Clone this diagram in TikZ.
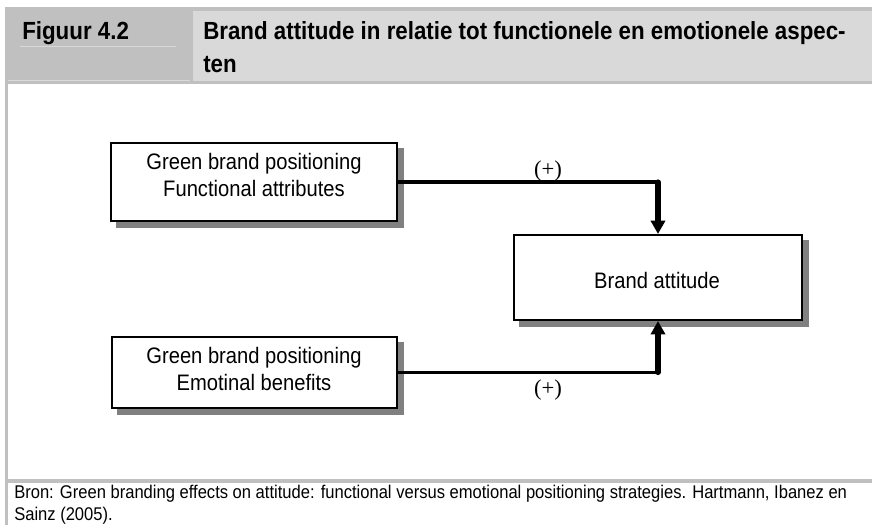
\documentclass[tikz,border=0pt]{standalone}
\usepackage{fontspec}
\setmainfont{Liberation Sans}
\newfontfamily\narrowfont[FakeStretch=0.9]{Liberation Sans}
\newfontfamily\plusfont{Liberation Serif}
\usetikzlibrary{arrows.meta,backgrounds}
\definecolor{hdrdark}{HTML}{C0C0C0}
\definecolor{hdrlight}{HTML}{D9D9D9}
\definecolor{shadowgray}{HTML}{808080}
\begin{document}
\begin{tikzpicture}[x=0.75pt,y=-0.75pt,
  boxnode/.style={draw=black, line width=1.5pt, fill=white, inner sep=0pt, rectangle},
  boxtext/.style={anchor=base, inner sep=0pt, font=\narrowfont\fontsize{16.8}{19}\selectfont},
  hdrtext/.style={anchor=base west, inner sep=0pt, font=\narrowfont\bfseries\fontsize{18.6}{21}\selectfont},
  foottext/.style={anchor=base west, inner sep=0pt, font=\narrowfont\fontsize{13.8}{15}\selectfont},
  plustext/.style={anchor=base, inner sep=0pt, font=\plusfont\fontsize{17}{19}\selectfont},
  hline/.style={line width=2.3pt, line cap=round},
  vline/.style={line width=3.8pt, line cap=round, -{Triangle[width=10.5pt,length=10pt]}},
  shadowbox/.style={fill=shadowgray}]
\useasboundingbox (0,0) rectangle (872,525);
% header
\fill[hdrdark] (5,7) rectangle (872,84);
\fill[hdrlight] (193,11) rectangle (872,81);
\draw[hdrlight, line width=0.6pt] (20,46) -- (176,46);
\draw[hdrlight, line width=0.6pt] (8,80) -- (190,80);
% body frame
\fill[hdrdark] (5,84) rectangle (8,525);
\fill[hdrdark] (5,479) rectangle (872,483);
% header texts
\node[hdrtext] (fig) at (22,39) {Figuur 4.2};
\node[hdrtext] (title1) at (203,39) {Brand attitude in relatie tot functionele en emotionele aspec-};
\node[hdrtext] (title2) at (203,72) {ten};
% boxes
\node[boxnode, minimum width=214.5pt, minimum height=58.5pt] (fa) at (254,182) {};
\node[boxnode, minimum width=213.75pt, minimum height=53.25pt] (eb) at (254.5,372.5) {};
\node[boxnode, minimum width=216pt, minimum height=63.75pt] (ba) at (658,277.5) {};
\begin{pgfonlayer}{background}
\fill[shadowbox] ([shift={(6,6)}]fa.south west) rectangle ([shift={(6,6)}]fa.north east);
\fill[shadowbox] ([shift={(6,6)}]eb.south west) rectangle ([shift={(6,6)}]eb.north east);
\fill[shadowbox] ([shift={(6,6)}]ba.south west) rectangle ([shift={(6,6)}]ba.north east);
\end{pgfonlayer}
% box texts
\node[boxtext] (fa1) at (254,169) {Green brand positioning};
\node[boxtext] (fa2) at (254,196) {Functional attributes};
\node[boxtext] (eb1) at (254,363) {Green brand positioning};
\node[boxtext] (eb2) at (254,390) {Emotinal benefits};
\node[boxtext] (ba1) at (657,288) {Brand attitude};
% connectors
\coordinate (k1) at (fa.east -| ba.north);
\coordinate (k2) at (eb.east -| ba.south);
\draw[hline] (fa.east) -- (k1);
\draw[vline] (k1) -- (ba.north);
\draw[hline] (eb.east) -- (k2);
\draw[vline] (k2) -- (ba.south);
\node[plustext] (p1) at (548,176) {(+)};
\node[plustext] (p2) at (548,395) {(+)};
% footer
\node[foottext] (src1) at (14,498) {Bron: Green branding effects on attitude: functional versus emotional positioning strategies. Hartmann, Ibanez en};
\node[foottext] (src2) at (14,520) {Sainz (2005).};
\end{tikzpicture}
\end{document}
